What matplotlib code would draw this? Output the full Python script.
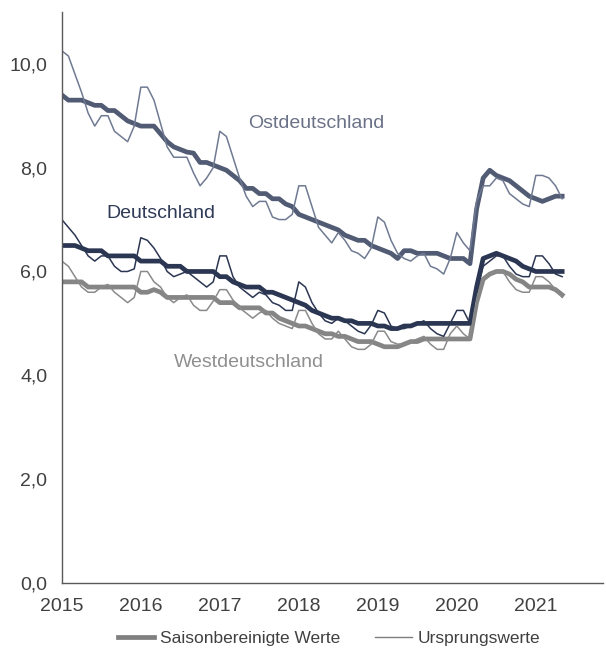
# Arbeitslosenquoten 2015-2021, saisonbereinigt und Ursprungswerte

import numpy as np
import matplotlib.pyplot as plt

plt.rcParams['font.family'] = ['Liberation Sans', 'DejaVu Sans']

# monthly values, Jan 2015 .. May 2021
years = ['2015', '2016', '2017', '2018', '2019', '2020', '2021']

ost_sa = [9.4, 9.3, 9.3, 9.3, 9.25, 9.2, 9.2, 9.1, 9.1, 9.0, 8.9, 8.85,
          8.8, 8.8, 8.8, 8.65, 8.5, 8.4, 8.35, 8.3, 8.28, 8.1, 8.1, 8.05,
          8.0, 7.95, 7.85, 7.75, 7.6, 7.6, 7.5, 7.5, 7.4, 7.4, 7.3, 7.25,
          7.1, 7.05, 7.0, 6.95, 6.9, 6.85, 6.8, 6.7, 6.65, 6.6, 6.6, 6.5,
          6.45, 6.4, 6.35, 6.25, 6.4, 6.4, 6.35, 6.35, 6.35, 6.35, 6.3, 6.25,
          6.25, 6.25, 6.15, 7.2, 7.8, 7.95, 7.85, 7.8, 7.75, 7.65, 7.55, 7.45,
          7.4, 7.35, 7.4, 7.45, 7.45]
ost_raw = [10.25, 10.15, 9.8, 9.45, 9.05, 8.8, 9.0, 9.0, 8.7, 8.6, 8.5, 8.8,
           9.55, 9.55, 9.3, 8.85, 8.4, 8.2, 8.2, 8.2, 7.9, 7.65, 7.8, 8.0,
           8.7, 8.6, 8.2, 7.8, 7.45, 7.25, 7.35, 7.35, 7.05, 7.0, 7.0, 7.1,
           7.65, 7.65, 7.25, 6.85, 6.7, 6.55, 6.75, 6.6, 6.4, 6.35, 6.25, 6.45,
           7.05, 6.95, 6.6, 6.35, 6.25, 6.2, 6.3, 6.35, 6.1, 6.05, 5.95, 6.25,
           6.75, 6.55, 6.4, 7.35, 7.65, 7.65, 7.8, 7.75, 7.5, 7.4, 7.3, 7.25,
           7.85, 7.85, 7.8, 7.65, 7.4]
de_sa = [6.5, 6.5, 6.5, 6.45, 6.4, 6.4, 6.4, 6.3, 6.3, 6.3, 6.3, 6.3,
         6.2, 6.2, 6.2, 6.2, 6.1, 6.1, 6.1, 6.0, 6.0, 6.0, 6.0, 6.0,
         5.9, 5.9, 5.8, 5.75, 5.7, 5.7, 5.7, 5.6, 5.6, 5.55, 5.5, 5.45,
         5.4, 5.35, 5.25, 5.2, 5.15, 5.1, 5.1, 5.05, 5.05, 5.0, 5.0, 5.0,
         4.95, 4.95, 4.9, 4.9, 4.95, 4.95, 5.0, 5.0, 5.0, 5.0, 5.0, 5.0,
         5.0, 5.0, 5.0, 5.7, 6.25, 6.3, 6.35, 6.3, 6.25, 6.2, 6.1, 6.05,
         6.0, 6.0, 6.0, 6.0, 6.0]
de_raw = [7.0, 6.85, 6.7, 6.5, 6.3, 6.2, 6.3, 6.3, 6.1, 6.0, 6.0, 6.05,
          6.65, 6.6, 6.45, 6.25, 6.0, 5.9, 5.95, 6.0, 5.9, 5.8, 5.7, 5.8,
          6.3, 6.3, 5.9, 5.7, 5.6, 5.5, 5.6, 5.55, 5.4, 5.35, 5.25, 5.25,
          5.8, 5.7, 5.4, 5.2, 5.05, 5.0, 5.1, 5.05, 4.95, 4.85, 4.8, 4.97,
          5.25, 5.2, 4.95, 4.9, 4.9, 4.95, 5.0, 5.05, 4.9, 4.8, 4.75, 5.0,
          5.25, 5.25, 5.0, 5.6, 6.1, 6.2, 6.3, 6.3, 6.1, 5.95, 5.9, 5.9,
          6.3, 6.3, 6.15, 5.95, 5.9]
west_sa = [5.8, 5.8, 5.8, 5.8, 5.7, 5.7, 5.7, 5.7, 5.7, 5.7, 5.7, 5.7,
           5.6, 5.6, 5.65, 5.6, 5.5, 5.5, 5.5, 5.5, 5.5, 5.5, 5.5, 5.5,
           5.4, 5.4, 5.4, 5.3, 5.3, 5.3, 5.3, 5.2, 5.2, 5.1, 5.05, 5.0,
           4.95, 4.95, 4.9, 4.85, 4.8, 4.8, 4.75, 4.75, 4.7, 4.65, 4.65, 4.65,
           4.6, 4.55, 4.55, 4.55, 4.6, 4.65, 4.65, 4.7, 4.7, 4.7, 4.7, 4.7,
           4.7, 4.7, 4.7, 5.4, 5.85, 5.95, 6.0, 6.0, 5.95, 5.85, 5.8, 5.7,
           5.7, 5.7, 5.7, 5.65, 5.55]
west_raw = [6.2, 6.1, 5.9, 5.7, 5.6, 5.6, 5.7, 5.75, 5.6, 5.5, 5.4, 5.5,
            6.0, 6.0, 5.8, 5.7, 5.5, 5.4, 5.5, 5.55, 5.35, 5.25, 5.25, 5.43,
            5.65, 5.65, 5.45, 5.3, 5.2, 5.1, 5.2, 5.25, 5.1, 5.0, 4.95, 4.9,
            5.25, 5.25, 5.0, 4.8, 4.7, 4.7, 4.85, 4.7, 4.55, 4.5, 4.5, 4.6,
            4.85, 4.85, 4.65, 4.6, 4.6, 4.65, 4.7, 4.75, 4.6, 4.5, 4.5, 4.8,
            4.95, 4.8, 4.7, 5.5, 5.85, 5.95, 6.0, 6.0, 5.8, 5.65, 5.6, 5.6,
            5.9, 5.9, 5.8, 5.65, 5.5]

months = np.arange(len(ost_sa))

c_ost = '#515c74'
c_de = '#2b3652'
c_west = '#858585'

fig = plt.figure(figsize=(6.06, 6.49), dpi=100)
ax = fig.add_axes([0.102, 0.1017, 0.893, 0.88])

# thick = seasonally adjusted, thin = raw
ax.plot(months, ost_sa, color=c_ost, lw=3.4, solid_joinstyle='round')
ax.plot(months, west_sa, color=c_west, lw=3.4, solid_joinstyle='round')
ax.plot(months, de_sa, color=c_de, lw=3.4, solid_joinstyle='round')
ax.plot(months, ost_raw, color='#6f7a92', lw=1.1)
ax.plot(months, west_raw, color='#8a8a8a', lw=1.1)
ax.plot(months, de_raw, color=c_de, lw=1.1)

ax.text(38.6, 8.85, 'Ostdeutschland', color='#6b7287', fontsize=14, ha='center', va='center')
ax.text(15.0, 7.12, 'Deutschland', color='#2e3a56', fontsize=14, ha='center', va='center')
ax.text(28.4, 4.25, 'Westdeutschland', color='#8f8f8f', fontsize=14, ha='center', va='center')

ax.set_xlim(0, 82.2)
ax.set_ylim(0, 11)
ax.set_xticks(np.arange(len(years)) * 12)
ax.set_xticklabels(years)
yt = np.arange(0, 11, 2)
ax.set_yticks(yt)
ax.set_yticklabels([f'{v:.1f}'.replace('.', ',') for v in yt])
ax.tick_params(length=0, labelsize=14, labelcolor='#404040')
ax.tick_params(axis='x', pad=11)
ax.tick_params(axis='y', pad=10.5)
for s in ['top', 'right']:
    ax.spines[s].set_visible(False)
for s in ['left', 'bottom']:
    ax.spines[s].set_color('#595959')
    ax.spines[s].set_linewidth(1.0)

h1, = ax.plot([], [], color='#7f7f7f', lw=3.4)
h2, = ax.plot([], [], color='#7f7f7f', lw=1.0)
fig.legend([h1, h2], ['Saisonbereinigte Werte', 'Ursprungswerte'], loc='lower center',
           bbox_to_anchor=(0.543, -0.02), ncol=2, frameon=False, fontsize=12.5,
           handlelength=2.1, columnspacing=2.0, handletextpad=0.35,
           labelcolor='#404040')

plt.savefig('out.png', dpi=100)
